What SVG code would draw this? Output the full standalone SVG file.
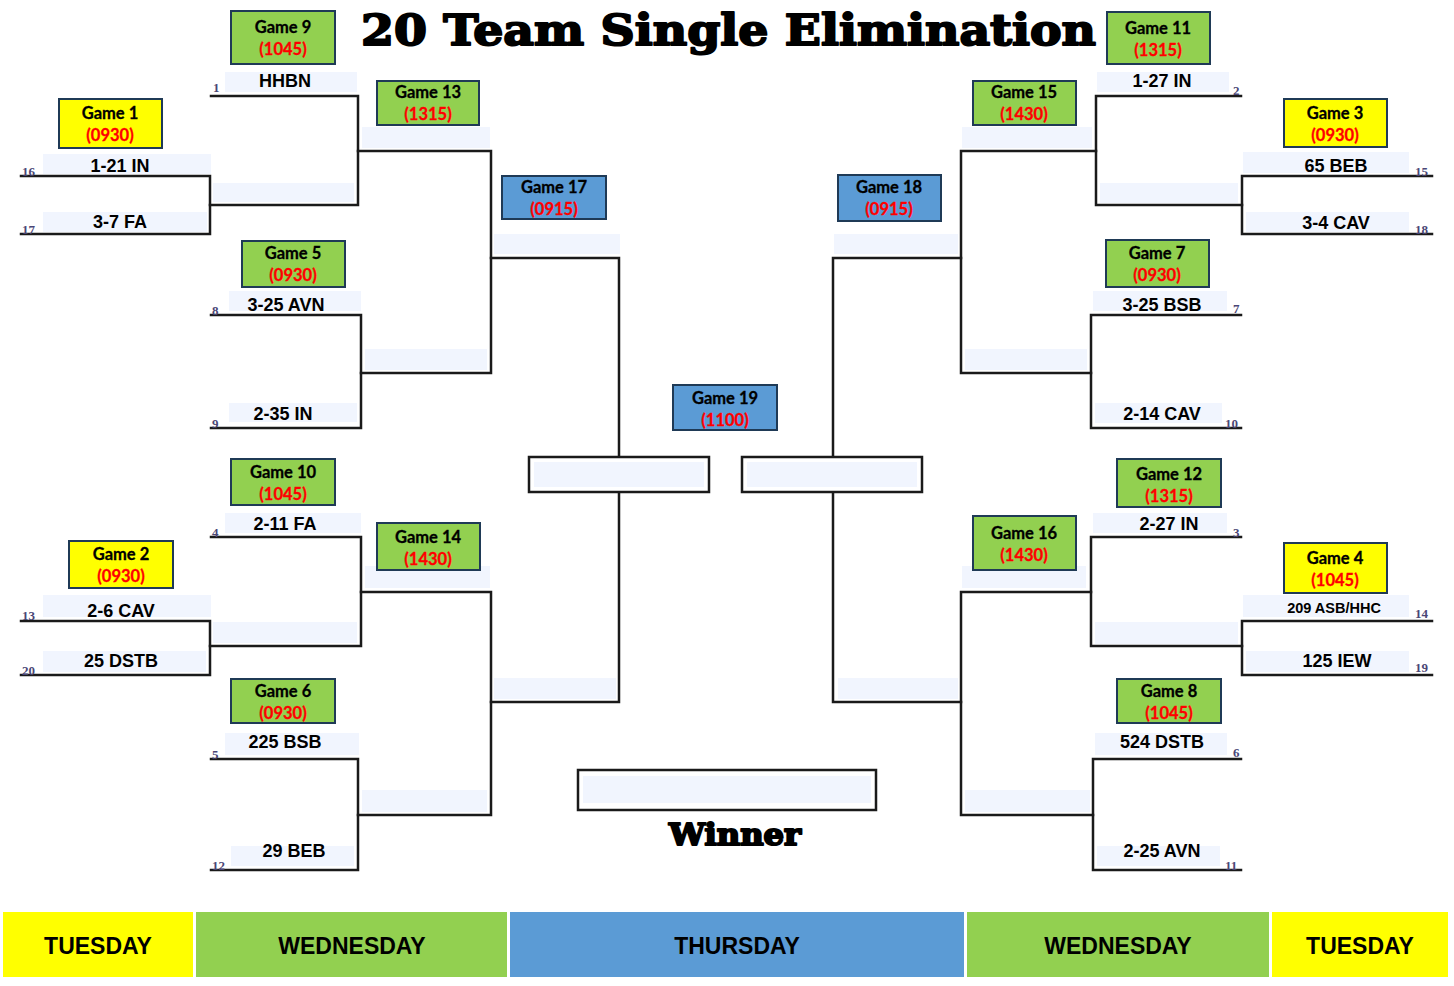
<svg xmlns="http://www.w3.org/2000/svg" width="1454" height="986" viewBox="0 0 1454 986">
<style>
.bg{fill:#ffffff}
.slot{fill:#F1F5FE}
.gy{fill:#FFFF00;stroke:#1F3A56;stroke-width:2}
.gg{fill:#92D050;stroke:#1F3A56;stroke-width:2}
.gb{fill:#5B9BD5;stroke:#1F3A56;stroke-width:2}
.gt{font-family:Lato,"Noto Sans",sans-serif;font-weight:bold;font-size:16.5px;fill:#000;stroke:#000;stroke-width:0.3;text-anchor:middle}
.gr{font-family:Lato,"Noto Sans",sans-serif;font-weight:bold;font-size:16.5px;fill:#FF0000;stroke:#FF0000;stroke-width:0.3;text-anchor:middle}
.tm{font-family:"Liberation Sans",Arial,sans-serif;font-weight:bold;font-size:18px;fill:#000;text-anchor:middle}
.sm{font-size:14.5px}
.sd{font-family:"Liberation Serif","Times New Roman",serif;font-weight:bold;font-size:13px;fill:#4A4676}
.ln{fill:none;stroke:#1a1a1a;stroke-width:2.5;stroke-linejoin:miter;stroke-linecap:square}
.box{fill:#ffffff;stroke:#1a1a1a;stroke-width:2.5}
.day{font-family:"Liberation Sans",Arial,sans-serif;font-weight:bold;font-size:23px;fill:#000;text-anchor:middle}
.ttl{font-family:"DejaVu Serif","Liberation Serif",serif;font-weight:900;fill:#000;stroke:#000;stroke-width:2;stroke-linejoin:round}
</style>
<rect class="bg" x="0" y="0" width="1454" height="986"/>
<text class="ttl" x="361" y="45" font-size="43" textLength="735" lengthAdjust="spacingAndGlyphs">20 Team Single Elimination</text>

<g id="slots">
<rect class="slot" x="213" y="183" width="141" height="19"/>
<rect class="slot" x="362" y="127" width="128" height="21"/>
<rect class="slot" x="365" y="349" width="122" height="21"/>
<rect class="slot" x="494" y="234" width="126" height="20"/>
<rect class="slot" x="494" y="678" width="122" height="21"/>
<rect class="slot" x="213" y="622" width="144" height="21"/>
<rect class="slot" x="365" y="566" width="125" height="22"/>
<rect class="slot" x="362" y="790" width="125" height="22"/>
<rect class="slot" x="1100" y="183" width="138" height="20"/>
<rect class="slot" x="962" y="127" width="130" height="21"/>
<rect class="slot" x="965" y="349" width="122" height="21"/>
<rect class="slot" x="834" y="234" width="124" height="20"/>
<rect class="slot" x="838" y="678" width="120" height="21"/>
<rect class="slot" x="1095" y="622" width="143" height="22"/>
<rect class="slot" x="962" y="566" width="124" height="22"/>
<rect class="slot" x="965" y="790" width="125" height="22"/>
</g>

<g id="connectors">
<path class="ln" d="M211 96 H358 V205 H210"/>
<path class="ln" d="M21 176 H210 V234 H21"/>
<path class="ln" d="M211 315 H361 V428 H211"/>
<path class="ln" d="M358 151 H491 V373 H361"/>
<path class="ln" d="M491 258 H619 V457"/>
<path class="ln" d="M619 492 V702 H491"/>
<path class="ln" d="M211 537 H361 V646 H210"/>
<path class="ln" d="M21 621 H210 V675 H21"/>
<path class="ln" d="M361 592 H491 V815 H358"/>
<path class="ln" d="M211 759 H358 V870 H211"/>
<path class="ln" d="M1241 96 H1096 V205 H1242"/>
<path class="ln" d="M1432 176 H1242 V234 H1432"/>
<path class="ln" d="M1096 151 H961 V373 H1091"/>
<path class="ln" d="M1241 315 H1091 V428 H1241"/>
<path class="ln" d="M961 258 H833 V457"/>
<path class="ln" d="M833 492 V702 H961"/>
<path class="ln" d="M1241 537 H1091 V646 H1242"/>
<path class="ln" d="M1432 621 H1242 V675 H1432"/>
<path class="ln" d="M1091 592 H961 V815 H1093"/>
<path class="ln" d="M1241 759 H1093 V870 H1241"/>
</g>

<g id="teams">
<g id="t-hhbn"><rect class="slot" x="225" y="72" width="132" height="20"/><text class="tm" x="285" y="87">HHBN</text><text class="sd" x="213" y="92">1</text></g>
<g id="t-121in"><rect class="slot" x="43" y="154" width="168" height="20"/><text class="tm" x="120" y="172">1-21 IN</text><text class="sd" x="22" y="176">16</text></g>
<g id="t-37fa"><rect class="slot" x="43" y="212" width="164" height="20"/><text class="tm" x="120" y="228">3-7 FA</text><text class="sd" x="22" y="234">17</text></g>
<g id="t-325avn"><rect class="slot" x="229" y="291" width="132" height="20"/><text class="tm" x="286" y="311">3-25 AVN</text><text class="sd" x="212" y="315">8</text></g>
<g id="t-235in"><rect class="slot" x="229" y="403" width="128" height="19"/><text class="tm" x="283" y="420">2-35 IN</text><text class="sd" x="212" y="428">9</text></g>
<g id="t-211fa"><rect class="slot" x="225" y="513" width="136" height="20"/><text class="tm" x="285" y="530">2-11 FA</text><text class="sd" x="212" y="537">4</text></g>
<g id="t-26cav"><rect class="slot" x="43" y="595" width="168" height="22"/><text class="tm" x="121" y="617">2-6 CAV</text><text class="sd" x="22" y="620">13</text></g>
<g id="t-25dstb"><rect class="slot" x="43" y="651" width="163" height="21"/><text class="tm" x="121" y="667">25 DSTB</text><text class="sd" x="22" y="675">20</text></g>
<g id="t-225bsb"><rect class="slot" x="225" y="733" width="134" height="22"/><text class="tm" x="285" y="748">225 BSB</text><text class="sd" x="212" y="759">5</text></g>
<g id="t-29beb"><rect class="slot" x="231" y="846" width="123" height="20"/><text class="tm" x="294" y="857">29 BEB</text><text class="sd" x="212" y="870">12</text></g>
<g id="t-127in"><rect class="slot" x="1097" y="72" width="132" height="20"/><text class="tm" x="1162" y="87">1-27 IN</text><text class="sd" x="1233" y="95">2</text></g>
<g id="t-65beb"><rect class="slot" x="1243" y="152" width="166" height="21"/><text class="tm" x="1336" y="172">65 BEB</text><text class="sd" x="1415" y="176">15</text></g>
<g id="t-34cav"><rect class="slot" x="1246" y="212" width="163" height="20"/><text class="tm" x="1336" y="229">3-4 CAV</text><text class="sd" x="1415" y="234">18</text></g>
<g id="t-325bsb"><rect class="slot" x="1093" y="291" width="134" height="20"/><text class="tm" x="1162" y="311">3-25 BSB</text><text class="sd" x="1233" y="313">7</text></g>
<g id="t-214cav"><rect class="slot" x="1095" y="403" width="127" height="20"/><text class="tm" x="1162" y="420">2-14 CAV</text><text class="sd" x="1225" y="428">10</text></g>
<g id="t-227in"><rect class="slot" x="1093" y="513" width="134" height="20"/><text class="tm" x="1169" y="530">2-27 IN</text><text class="sd" x="1233" y="537">3</text></g>
<g id="t-209asb"><rect class="slot" x="1243" y="595" width="166" height="22"/><text class="tm sm" x="1334" y="613">209 ASB/HHC</text><text class="sd" x="1415" y="618">14</text></g>
<g id="t-125iew"><rect class="slot" x="1246" y="651" width="163" height="21"/><text class="tm" x="1337" y="667">125 IEW</text><text class="sd" x="1415" y="672">19</text></g>
<g id="t-524dstb"><rect class="slot" x="1095" y="733" width="132" height="22"/><text class="tm" x="1162" y="748">524 DSTB</text><text class="sd" x="1233" y="757">6</text></g>
<g id="t-225avn"><rect class="slot" x="1097" y="846" width="123" height="20"/><text class="tm" x="1162" y="857">2-25 AVN</text><text class="sd" x="1225" y="870">11</text></g>
</g>

<g id="g9"><rect class="gg" x="231" y="11" width="104" height="53"/><text class="gt" x="283" y="33">Game 9</text><text class="gr" x="283" y="55">(1045)</text></g>
<g id="g13"><rect class="gg" x="377" y="81" width="102" height="44"/><text class="gt" x="428" y="98">Game 13</text><text class="gr" x="428" y="120">(1315)</text></g>
<g id="g1"><rect class="gy" x="59" y="99" width="103" height="49"/><text class="gt" x="110" y="119">Game 1</text><text class="gr" x="110" y="141">(0930)</text></g>
<g id="g5"><rect class="gg" x="242" y="241" width="103" height="46"/><text class="gt" x="293" y="259">Game 5</text><text class="gr" x="293" y="281">(0930)</text></g>
<g id="g17"><rect class="gb" x="502" y="176" width="104" height="43"/><text class="gt" x="554" y="193">Game 17</text><text class="gr" x="554" y="215">(0915)</text></g>
<g id="g10"><rect class="gg" x="231" y="459" width="104" height="46"/><text class="gt" x="283" y="478">Game 10</text><text class="gr" x="283" y="500">(1045)</text></g>
<g id="g14"><rect class="gg" x="377" y="523" width="103" height="47"/><text class="gt" x="428" y="543">Game 14</text><text class="gr" x="428" y="565">(1430)</text></g>
<g id="g2"><rect class="gy" x="69" y="541" width="104" height="47"/><text class="gt" x="121" y="560">Game 2</text><text class="gr" x="121" y="582">(0930)</text></g>
<g id="g6"><rect class="gg" x="231" y="679" width="104" height="44"/><text class="gt" x="283" y="697">Game 6</text><text class="gr" x="283" y="719">(0930)</text></g>
<g id="g19"><rect class="gb" x="673" y="385" width="104" height="45"/><text class="gt" x="725" y="404">Game 19</text><text class="gr" x="725" y="426">(1100)</text></g>
<g id="g18"><rect class="gb" x="838" y="175" width="103" height="46"/><text class="gt" x="889" y="193">Game 18</text><text class="gr" x="889" y="215">(0915)</text></g>
<g id="g11"><rect class="gg" x="1107" y="12" width="103" height="52"/><text class="gt" x="1158" y="34">Game 11</text><text class="gr" x="1158" y="56">(1315)</text></g>
<g id="g15"><rect class="gg" x="973" y="81" width="103" height="44"/><text class="gt" x="1024" y="98">Game 15</text><text class="gr" x="1024" y="120">(1430)</text></g>
<g id="g3"><rect class="gy" x="1284" y="99" width="103" height="48"/><text class="gt" x="1335" y="119">Game 3</text><text class="gr" x="1335" y="141">(0930)</text></g>
<g id="g7"><rect class="gg" x="1106" y="240" width="103" height="47"/><text class="gt" x="1157" y="259">Game 7</text><text class="gr" x="1157" y="281">(0930)</text></g>
<g id="g12"><rect class="gg" x="1117" y="459" width="104" height="48"/><text class="gt" x="1169" y="480">Game 12</text><text class="gr" x="1169" y="502">(1315)</text></g>
<g id="g16"><rect class="gg" x="973" y="516" width="103" height="54"/><text class="gt" x="1024" y="539">Game 16</text><text class="gr" x="1024" y="561">(1430)</text></g>
<g id="g4"><rect class="gy" x="1284" y="543" width="103" height="50"/><text class="gt" x="1335" y="564">Game 4</text><text class="gr" x="1335" y="586">(1045)</text></g>
<g id="g8"><rect class="gg" x="1117" y="679" width="104" height="44"/><text class="gt" x="1169" y="697">Game 8</text><text class="gr" x="1169" y="719">(1045)</text></g>

<g id="semi-left"><rect class="box" x="529" y="457" width="180" height="35"/><rect class="slot" x="534" y="462" width="170" height="25"/></g>
<g id="semi-right"><rect class="box" x="742" y="457" width="180" height="35"/><rect class="slot" x="747" y="462" width="170" height="25"/></g>
<g id="winner"><rect class="box" x="578" y="770" width="298" height="40"/><rect class="slot" x="583" y="776" width="288" height="27"/>
<text class="ttl" x="669" y="845" font-size="29" textLength="132" lengthAdjust="spacingAndGlyphs">Winner</text></g>

<g id="days">
<rect x="3" y="912" width="190" height="65" fill="#FFFF00"/><text class="day" x="98" y="954">TUESDAY</text>
<rect x="196" y="912" width="311" height="65" fill="#92D050"/><text class="day" x="352" y="954">WEDNESDAY</text>
<rect x="510" y="912" width="454" height="65" fill="#5B9BD5"/><text class="day" x="737" y="954">THURSDAY</text>
<rect x="967" y="912" width="302" height="65" fill="#92D050"/><text class="day" x="1118" y="954">WEDNESDAY</text>
<rect x="1272" y="912" width="176" height="65" fill="#FFFF00"/><text class="day" x="1360" y="954">TUESDAY</text>
</g>
</svg>
